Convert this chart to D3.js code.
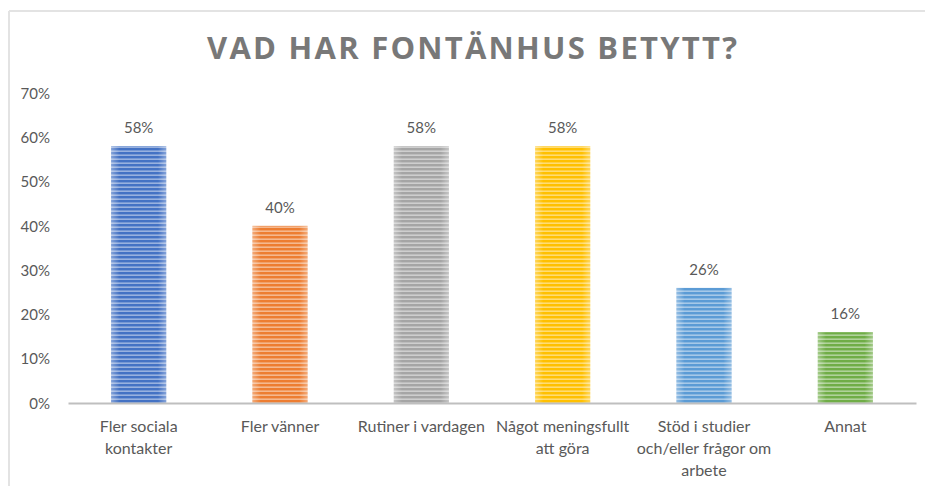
<!DOCTYPE html>
<html>
<head>
<meta charset="utf-8">
<script src="https://cdn.jsdelivr.net/npm/d3@7"></script>
<style>
  body { margin: 0; background: #fff; }
  svg { display: block; }
  .tick text { font-family: Lato, "Open Sans", sans-serif; fill: #595959; }
</style>
</head>
<body>
<div id="chart"></div>
<script>
// data
const categories = ['Fler sociala kontakter', 'Fler vänner', 'Rutiner i vardagen', 'Något meningsfullt att göra', 'Stöd i studier och/eller frågor om arbete', 'Annat'];
const tickLabels = [['Fler sociala', 'kontakter'], ['Fler vänner'], ['Rutiner i vardagen'], ['Något meningsfullt', 'att göra'], ['Stöd i studier', 'och/eller frågor om', 'arbete'], ['Annat']];
const values = [0.58, 0.40, 0.58, 0.58, 0.26, 0.16];
const colors = ['#4472c4', '#ed7d31', '#a5a5a5', '#ffc000', '#5b9bd5', '#70ad47'];
const yTicks = [0, 0.1, 0.2, 0.3, 0.4, 0.5, 0.6, 0.7];
const title = 'VAD HAR FONTÄNHUS BETYTT?';

const width = 925, height = 486;
const margin = { top: 93, right: 9, bottom: 83, left: 68 };

const svg = d3.select('#chart').append('svg')
    .attr('width', width)
    .attr('height', height);

// chart frame (only top and left edges are visible)
svg.append('line').attr('x1', 9).attr('x2', width).attr('y1', 11).attr('y2', 11)
    .attr('stroke', '#e3e3e3').attr('stroke-width', 2);
svg.append('line').attr('x1', 9).attr('x2', 9).attr('y1', 11).attr('y2', height)
    .attr('stroke', '#e3e3e3').attr('stroke-width', 2);

// striped fills
const defs = svg.append('defs');
colors.forEach((c, i) => {
    const p = defs.append('pattern')
        .attr('id', 'stripe' + i)
        .attr('patternUnits', 'userSpaceOnUse')
        .attr('width', 8).attr('height', 4);
    p.append('rect').attr('width', 8).attr('height', 4).attr('fill', d3.interpolateRgb(c, '#fff')(0.45));
    p.append('rect').attr('width', 8).attr('height', 2.4).attr('fill', c);
});
const sheen = defs.append('linearGradient').attr('id', 'sheen');
sheen.append('stop').attr('offset', '0%').attr('stop-color', '#fff').attr('stop-opacity', 0.35);
sheen.append('stop').attr('offset', '15%').attr('stop-color', '#fff').attr('stop-opacity', 0);
sheen.append('stop').attr('offset', '85%').attr('stop-color', '#fff').attr('stop-opacity', 0);
sheen.append('stop').attr('offset', '100%').attr('stop-color', '#fff').attr('stop-opacity', 0.35);

const x = d3.scaleBand().domain(categories)
    .range([margin.left, width - margin.right])
    .paddingInner(0.61).paddingOuter(0.305);
const y = d3.scaleLinear().domain([0, 0.7]).range([height - margin.bottom, margin.top]);

svg.append('text')
    .attr('x', 472).attr('y', 59)
    .attr('text-anchor', 'middle')
    .attr('font-family', '"Open Sans", sans-serif')
    .attr('font-weight', 'bold')
    .attr('font-size', 31)
    .attr('fill', '#787878')
    .attr('textLength', 530)
    .attr('lengthAdjust', 'spacing')
    .text(title);

// y axis, labels only
const yAxis = svg.append('g')
    .attr('transform', `translate(${margin.left - 15},0)`)
    .call(d3.axisLeft(y).tickValues(yTicks).tickSize(0).tickFormat(d3.format('.0%')));
yAxis.select('.domain').remove();
yAxis.selectAll('text').attr('font-size', 15).attr('dy', '0.35em');

// bars
svg.selectAll('.bar')
    .data(values)
    .enter().append('rect')
    .attr('class', 'bar')
    .attr('x', (d, i) => x(categories[i]))
    .attr('y', d => y(d))
    .attr('width', x.bandwidth())
    .attr('height', d => y(0) - y(d))
    .attr('fill', (d, i) => `url(#stripe${i})`);
svg.selectAll('.bar-sheen')
    .data(values)
    .enter().append('rect')
    .attr('class', 'bar-sheen')
    .attr('x', (d, i) => x(categories[i]))
    .attr('y', d => y(d))
    .attr('width', x.bandwidth())
    .attr('height', d => y(0) - y(d))
    .attr('fill', 'url(#sheen)');

// value labels
svg.selectAll('.val')
    .data(values)
    .enter().append('text')
    .attr('class', 'val')
    .attr('x', (d, i) => x(categories[i]) + x.bandwidth() / 2)
    .attr('y', d => y(d) - 13)
    .attr('text-anchor', 'middle')
    .attr('font-family', 'Lato, "Open Sans", sans-serif')
    .attr('font-size', 15)
    .attr('fill', '#595959')
    .text(d => d3.format('.0%')(d));

// x axis
const xAxis = svg.append('g')
    .attr('transform', `translate(0,${y(0)})`)
    .call(d3.axisBottom(x).tickSize(0).tickFormat(''));
xAxis.select('.domain').attr('stroke', '#bfbfbf').attr('stroke-width', 2);
xAxis.selectAll('.tick text').remove();
xAxis.selectAll('.tick').each(function (d, i) {
    const t = d3.select(this).append('text')
        .attr('text-anchor', 'middle')
        .attr('font-size', 16)
        .attr('y', 29);
    tickLabels[i].forEach((line, j) => {
        t.append('tspan').attr('x', 0).attr('dy', j === 0 ? 0 : 22).text(line);
    });
});
</script>
</body>
</html>
